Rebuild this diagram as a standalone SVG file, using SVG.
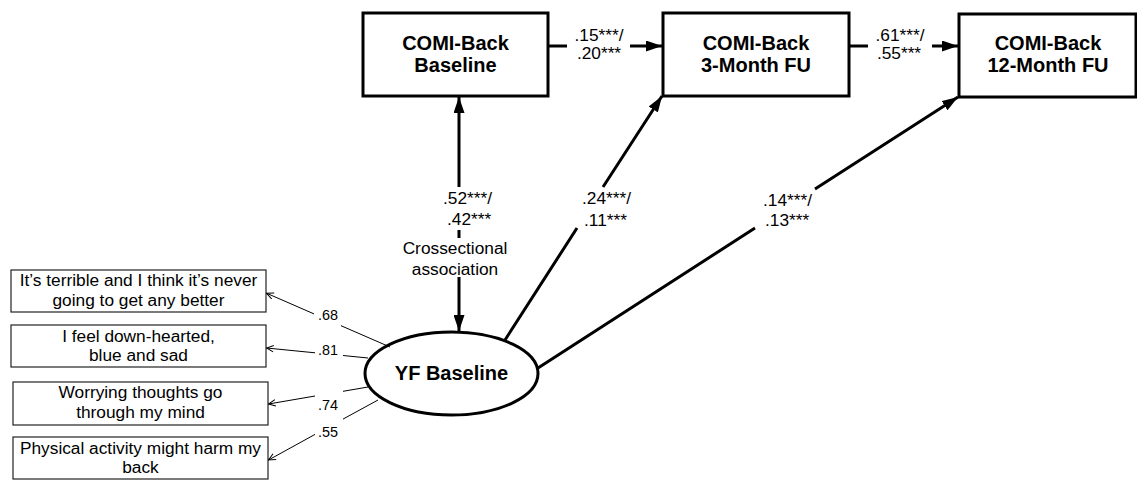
<svg xmlns="http://www.w3.org/2000/svg" width="1137" height="480" viewBox="0 0 1137 480">
  <style>
    .box { fill: #fff; stroke: #000; stroke-width: 3; }
    .item { fill: #fff; stroke: #222; stroke-width: 1.2; }
    .title { font-family: "Liberation Sans", Arial, sans-serif; font-size: 20px; font-weight: bold; fill: #000; text-anchor: middle; }
    .txt { font-family: "Liberation Sans", Arial, sans-serif; font-size: 17.3px; fill: #000; }
    .mid { text-anchor: middle; }
    .load { font-family: "Liberation Sans", Arial, sans-serif; font-size: 14.4px; fill: #000; text-anchor: middle; }
    .path { fill: none; stroke: #000; stroke-width: 3; }
    .thin { fill: none; stroke: #000; stroke-width: 1; }
  </style>
  <defs>
    <marker id="head" viewBox="0 0 16 11" refX="16" refY="5.5" markerWidth="16" markerHeight="11" markerUnits="userSpaceOnUse" orient="auto-start-reverse">
      <path d="M0,0 L16,5.5 L0,11 Z" fill="#000"/>
    </marker>
    <marker id="open" viewBox="0 0 8 8" refX="7.5" refY="4" markerWidth="8" markerHeight="8" markerUnits="userSpaceOnUse" orient="auto">
      <path d="M0.5,0.8 L7.5,4 L0.5,7.2" fill="none" stroke="#000" stroke-width="1"/>
    </marker>
  </defs>

  <!-- COMI-Back outcome boxes -->
  <g id="comi-baseline">
    <rect class="box" x="363" y="13" width="185" height="83"/>
    <text class="title" x="455.5" y="50">COMI-Back</text>
    <text class="title" x="455.5" y="72">Baseline</text>
  </g>
  <g id="comi-3m">
    <rect class="box" x="663" y="13" width="186" height="83"/>
    <text class="title" x="756" y="50">COMI-Back</text>
    <text class="title" x="756" y="72">3-Month FU</text>
  </g>
  <g id="comi-12m">
    <rect class="box" x="959" y="14" width="177" height="83"/>
    <text class="title" x="1048" y="50">COMI-Back</text>
    <text class="title" x="1048" y="72">12-Month FU</text>
  </g>

  <!-- latent factor -->
  <g id="yf-baseline">
    <ellipse class="box" cx="451.5" cy="373.5" rx="86.5" ry="41.5"/>
    <text class="title" x="451.5" y="380">YF Baseline</text>
  </g>

  <!-- indicator items -->
  <g id="item1">
    <rect class="item" x="11" y="270" width="255" height="42"/>
    <text class="txt mid" x="138.5" y="286">It’s terrible and I think it’s never</text>
    <text class="txt mid" x="138.5" y="306">going to get any better</text>
  </g>
  <g id="item2">
    <rect class="item" x="11" y="325" width="255" height="42"/>
    <text class="txt mid" x="138.5" y="342">I feel down-hearted,</text>
    <text class="txt mid" x="138.5" y="361">blue and sad</text>
  </g>
  <g id="item3">
    <rect class="item" x="13" y="382" width="255" height="43"/>
    <text class="txt mid" x="140.5" y="398">Worrying thoughts go</text>
    <text class="txt mid" x="140.5" y="418">through my mind</text>
  </g>
  <g id="item4">
    <rect class="item" x="13" y="437" width="255" height="42"/>
    <text class="txt mid" x="140.5" y="454">Physical activity might harm my</text>
    <text class="txt mid" x="140.5" y="473">back</text>
  </g>

  <!-- connectors -->
  <g id="connectors">
    <path class="path" d="M548,46 L567,46 M630,46 L662,46" marker-end="url(#head)"/>
    <path class="path" d="M849,46 L868,46 M932,46 L958,46" marker-end="url(#head)"/>
    <path class="path" d="M459,97 L459,187 M459,230 L459,238 M459,277 L459,331" marker-start="url(#head)" marker-end="url(#head)"/>
    <path class="path" d="M505,340 L577,228 M603,187 L662,96" marker-end="url(#head)"/>
    <path class="path" d="M538,368 L755,228 M815,189 L958,97" marker-end="url(#head)"/>

    <path class="thin" d="M390,347 L341,325.7 M314,313.9 L266.5,293.2" marker-end="url(#open)"/>
    <path class="thin" d="M368,358 L343,355.5 M315,352.8 L266.5,348" marker-end="url(#open)"/>
    <path class="thin" d="M368,387 L343,391.3 M315,396 L268.5,404" marker-end="url(#open)"/>
    <path class="thin" d="M378,400 L343,419.1 M315,434.4 L268.5,460" marker-end="url(#open)"/>
  </g>

  <!-- coefficient labels -->
  <g id="labels">
    <text class="txt mid" x="599" y="41">.15***/</text>
    <text class="txt mid" x="599" y="59">.20***</text>
    <text class="txt mid" x="900" y="41">.61***/</text>
    <text class="txt mid" x="899" y="59">.55***</text>
    <text class="txt" x="443" y="204">.52***/</text>
    <text class="txt" x="447" y="225">.42***</text>
    <text class="txt mid" x="455" y="254">Crossectional</text>
    <text class="txt mid" x="455" y="275">association</text>
    <text class="txt" x="582" y="204">.24***/</text>
    <text class="txt" x="584" y="226">.11***</text>
    <text class="txt" x="763" y="206">.14***/</text>
    <text class="txt" x="765" y="226">.13***</text>
    <text class="load" x="328" y="320">.68</text>
    <text class="load" x="328" y="355">.81</text>
    <text class="load" x="328" y="410">.74</text>
    <text class="load" x="328" y="437">.55</text>
  </g>
</svg>
